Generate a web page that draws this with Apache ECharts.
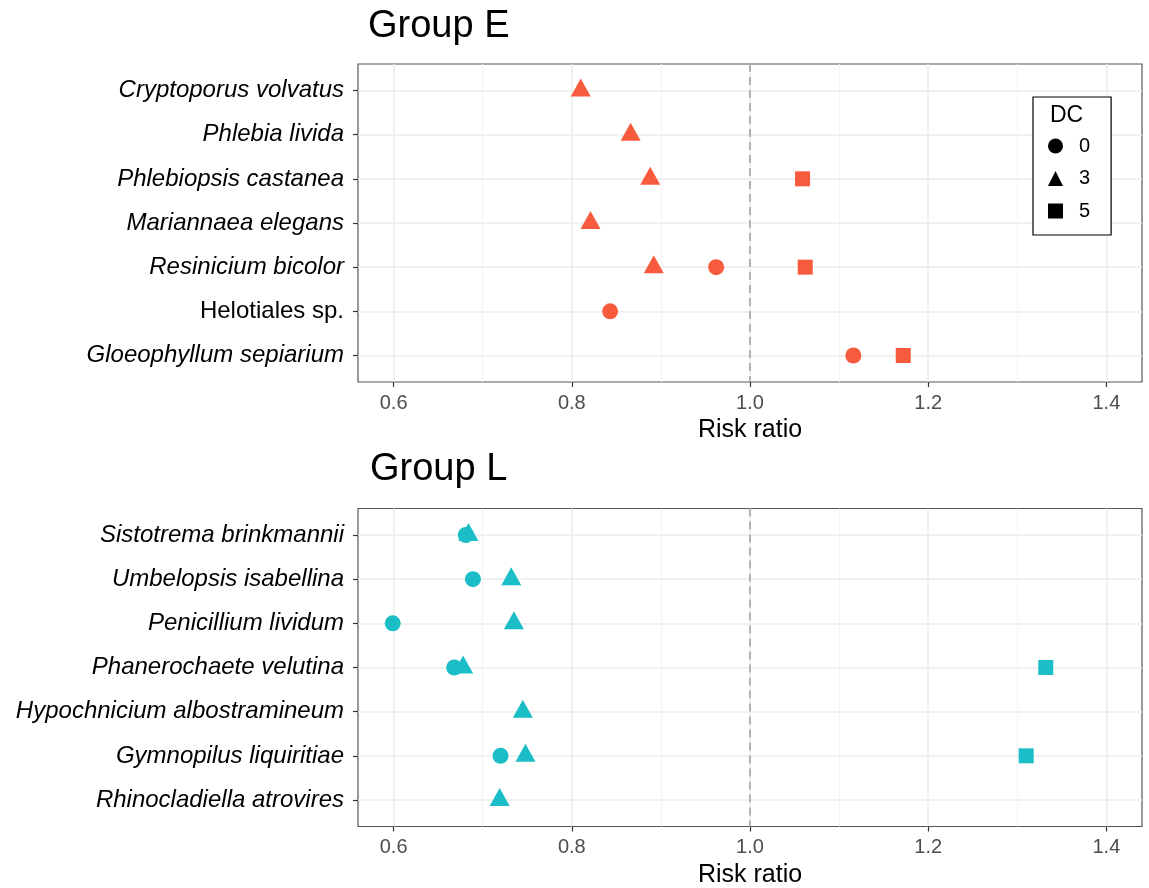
<!DOCTYPE html>
<html>
<head>
<meta charset="utf-8">
<script src="https://cdn.jsdelivr.net/npm/echarts@6/dist/echarts.min.js"></script>
<style>html,body{margin:0;padding:0;background:#fff;}#c{width:1149px;height:888px;}</style>
</head>
<body>
<div id="c"></div>
<script>
// ---- data ----
const catsE = ['Cryptoporus volvatus','Phlebia livida','Phlebiopsis castanea','Mariannaea elegans','Resinicium bicolor','Helotiales sp.','Gloeophyllum sepiarium'];
const eDC0 = [null, null, null, null, 0.962, 0.843, 1.116];
const eDC3 = [0.810, 0.866, 0.888, 0.821, 0.892, null, null];
const eDC5 = [null, null, 1.059, null, 1.062, null, 1.172];

const catsL = ['Sistotrema brinkmannii','Umbelopsis isabellina','Penicillium lividum','Phanerochaete velutina','Hypochnicium albostramineum','Gymnopilus liquiritiae','Rhinocladiella atrovires'];
const lDC0 = [0.681, 0.689, 0.599, 0.668, null, 0.720, null];
const lDC3 = [0.684, 0.732, 0.735, 0.678, 0.745, 0.748, 0.719];
const lDC5 = [null, null, null, 1.332, null, 1.310, null];

const xTicks = [0.6, 0.8, 1.0, 1.2, 1.4];
const xMinorTicks = [0.7, 0.9, 1.1, 1.3];
const xLimits = [0.56, 1.44];
const refLine = 1.0;
const nonItalic = ['Helotiales sp.'];
const dcLevels = ['0', '3', '5'];
const titles = ['Group E', 'Group L'];
const legendTitle = 'DC';
const xName = 'Risk ratio';

// ---- styling ----
const colE = '#F85A3E';
const colL = '#1BBEC7';
const FONT = '"Liberation Sans", Arial, sans-serif';
const symbols = { '0': 'circle', '3': 'triangle', '5': 'rect' };
const sizes = { '0': 16, '3': [20, 18], '5': 15 };
const offsets = { '0': [0, 0], '3': [0, -3], '5': [0, 0] };
const grids = [
  { left: 358, top: 64, width: 784, height: 318 },
  { left: 358, top: 508.5, width: 784, height: 318 }
];

function toPts(arr) {
  const out = [];
  arr.forEach((v, i) => { if (v !== null) out.push([v, i]); });
  return out;
}

const catIdx = catsE.map((_, i) => i);

const xAxes = [];
const yAxes = [];
const series = [];
const panels = [
  { cats: catsE, vals: [eDC0, eDC3, eDC5], color: colE },
  { cats: catsL, vals: [lDC0, lDC3, lDC5], color: colL }
];

panels.forEach((p, g) => {
  // minor x gridlines
  xAxes.push({
    gridIndex: g, type: 'value', min: xLimits[0], max: xLimits[1], position: 'top',
    axisLine: { show: false },
    axisTick: { show: false, customValues: xMinorTicks },
    axisLabel: { show: false },
    splitLine: { show: true, lineStyle: { color: '#F3F3F3', width: 1 } }
  });
  // major x axis
  xAxes.push({
    gridIndex: g, type: 'value', min: xLimits[0], max: xLimits[1], position: 'bottom',
    axisLine: { show: false },
    axisTick: { show: true, length: 5, customValues: xTicks, lineStyle: { color: '#333', width: 1.2 } },
    axisLabel: { customValues: xTicks, formatter: v => v.toFixed(1), fontSize: 20, color: '#4D4D4D', margin: 11, fontFamily: FONT },
    splitLine: { show: true, lineStyle: { color: '#EBEBEB', width: 1.5 } },
    name: xName, nameLocation: 'middle', nameGap: 36,
    nameTextStyle: { fontSize: 25, color: '#000', fontFamily: FONT }
  });
  const cats = p.cats;
  yAxes.push({
    gridIndex: g, type: 'value', min: -0.6, max: 6.6, inverse: true, position: 'left',
    axisLine: { show: false },
    axisTick: { show: true, length: 5, customValues: catIdx, lineStyle: { color: '#333', width: 1.2 } },
    axisLabel: {
      customValues: catIdx, margin: 14,
      formatter: v => {
        const n = cats[Math.round(v)];
        return (nonItalic.indexOf(n) >= 0 ? '{n|' : '{i|') + n + '}';
      },
      rich: {
        i: { fontSize: 24, fontStyle: 'italic', color: '#000', fontFamily: FONT },
        n: { fontSize: 24, color: '#000', fontFamily: FONT }
      }
    },
    splitLine: { show: true, lineStyle: { color: '#EBEBEB', width: 1.5 } }
  });
  dcLevels.forEach((lvl, k) => {
    const s = {
      name: lvl, type: 'scatter',
      xAxisIndex: g * 2 + 1, yAxisIndex: g,
      symbol: symbols[lvl], symbolSize: sizes[lvl], symbolOffset: offsets[lvl],
      itemStyle: { color: p.color, opacity: 1 },
      data: toPts(p.vals[k]),
      z: 3
    };
    if (k === 0) {
      s.markLine = {
        silent: true, symbol: 'none', animation: false,
        label: { show: false },
        lineStyle: { type: [8, 5], color: '#A0A0A0', width: 1.5 },
        data: [{ xAxis: refLine }],
        z: 2
      };
    }
    series.push(s);
  });
});

const option = {
  backgroundColor: '#fff',
  animation: false,
  textStyle: { fontFamily: FONT },
  title: [
    { text: titles[0], left: 368, top: 8, padding: 0, textStyle: { fontSize: 38, fontWeight: 'normal', color: '#000', fontFamily: FONT } },
    { text: titles[1], left: 370, top: 451, padding: 0, textStyle: { fontSize: 38, fontWeight: 'normal', color: '#000', fontFamily: FONT } },
    { text: legendTitle, left: 1050, top: 104, padding: 0, z: 10, textStyle: { fontSize: 23, fontWeight: 'normal', color: '#000', fontFamily: FONT } }
  ],
  legend: {
    orient: 'vertical', left: 1033, top: 97,
    padding: [39, 21, 14, 15],
    itemWidth: 15, itemHeight: 15, itemGap: 12.5,
    backgroundColor: '#fff', borderColor: '#000', borderWidth: 1.2,
    selectedMode: false,
    textStyle: { fontSize: 20, color: '#000', lineHeight: 20, padding: [0, 0, 0, 11], fontFamily: FONT },
    data: dcLevels.map(l => ({ name: l, icon: symbols[l], itemStyle: { color: '#000' } }))
  },
  grid: grids.map(g => Object.assign({ show: true, borderColor: '#555', borderWidth: 1.2, backgroundColor: 'transparent', outerBoundsMode: 'none', containLabel: false }, g)),
  xAxis: xAxes,
  yAxis: yAxes,
  series: series
};

const chart = echarts.init(document.getElementById('c'), null, { renderer: 'canvas' });
chart.setOption(option);
</script>
</body>
</html>
